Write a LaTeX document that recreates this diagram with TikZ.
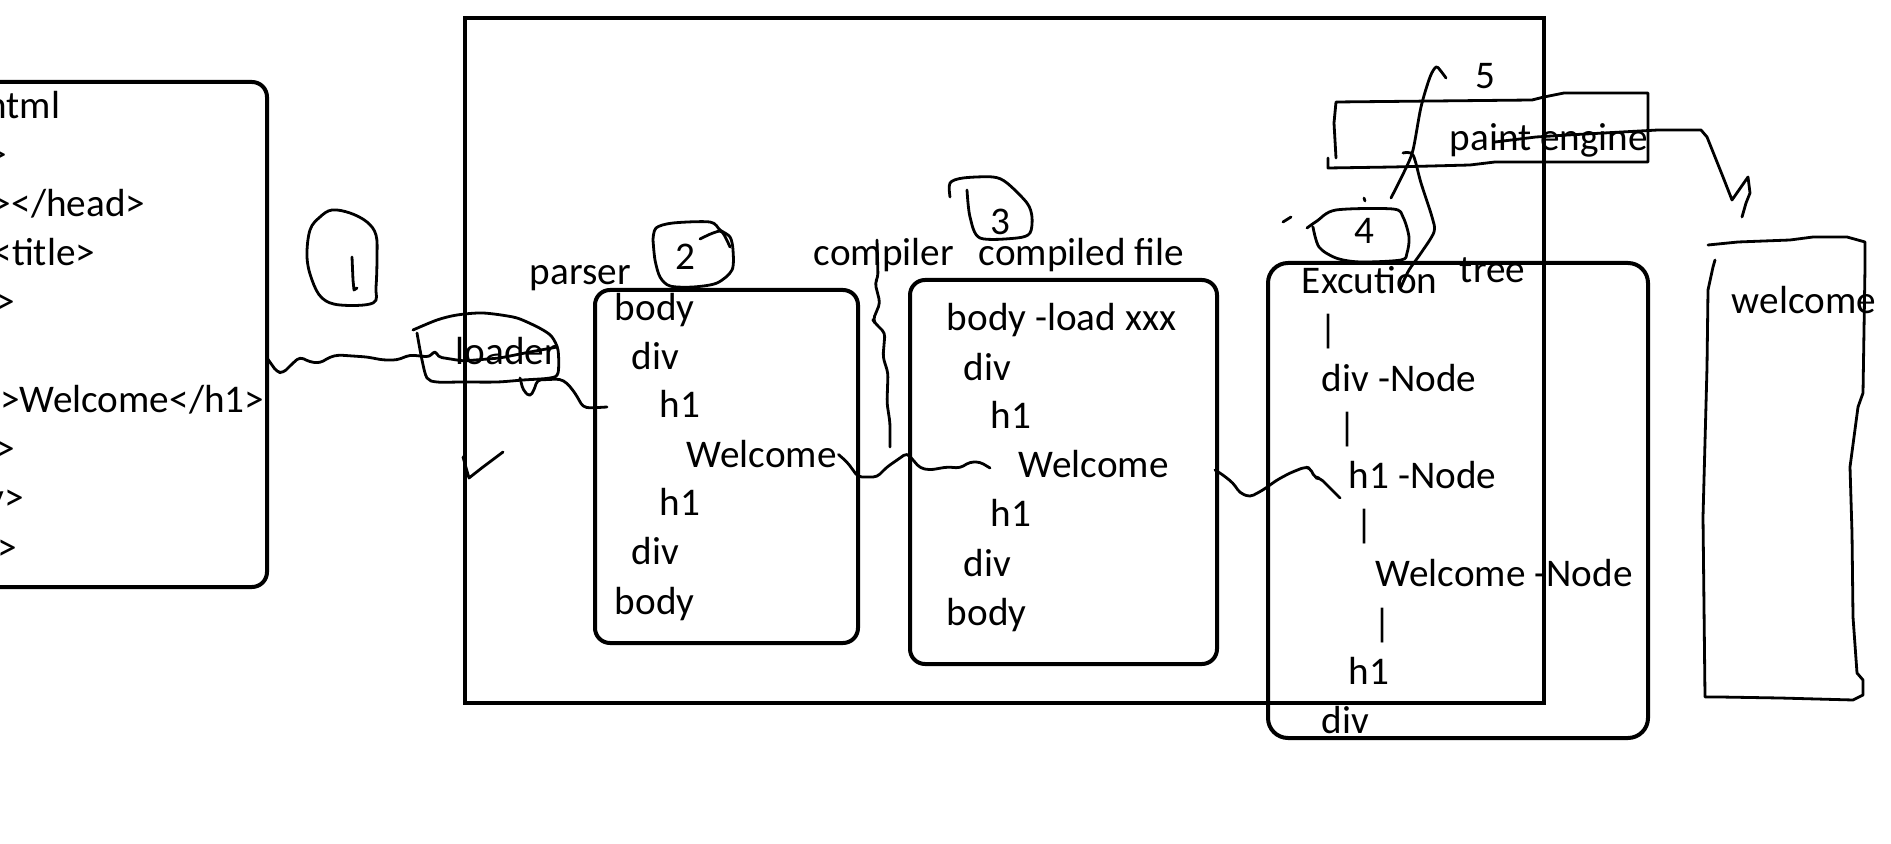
\documentclass[tikz,border=0pt]{standalone}
\usepackage{fontspec}
\setmainfont{Carlito}

\tikzset{
  hand/.style={line width=1.4pt, line join=round, line cap=round},
  panel/.style={line width=2pt, rounded corners=7.5pt},
  txt/.style={anchor=base west, inner sep=0.75pt, font=\fontsize{19.6}{23}\selectfont},
  rtxt/.style={txt, anchor=base east},
  ctxt/.style={txt, anchor=base},
}

\begin{document}
\begin{tikzpicture}[x=0.5pt,y=0.5pt,yscale=-1,xscale=1]
\useasboundingbox (0,0) rectangle (1891,844);
\clip (0,0) rectangle (1891,844);

% html source, cut off at the left
\draw [panel] (-60,82) rectangle (267,587);
\draw (62,119) node [rtxt] (src1) {<html};
\draw (9,168) node [rtxt] (src2) {<head>};
\draw (147,217) node [rtxt] (src3) {<meta></head>};
\draw (97,266) node [rtxt] (src4) {<title>};
\draw (17,315) node [rtxt] (src5) {<body>};
\draw (266,413) node [rtxt] (src7) {<h1>Welcome</h1>};
\draw (17,462) node [rtxt] (src8) {</div>};
\draw (26,511) node [rtxt] (src9) {</body>};
\draw (19,560) node [rtxt] (src10) {</html>};

% step 1
\draw [hand] plot [smooth cycle, tension=0.6] coordinates {(332,210) (350,213) (367,222) (376,235) (377,257) (376,287) (373,303) (340,305) (322,298) (312,280) (307,257) (310,230) (320,217)};
\draw [hand] (352,257) -- (353,280) -- (354,290) -- (357,288);

% browser
\draw [line width=2.2pt] (465,18) rectangle (1544,703);

% loader
\coordinate (srcR) at (267,358);
\draw [hand, rounded corners=2pt] (srcR) -- (277,372) -- (283,373) -- (293,363) -- (300,357) -- (310,362) -- (320,363) -- (330,357) -- (338,355) -- (367,357) -- (383,360) -- (397,360) -- (410,355) -- (420,356) -- (430,357) -- (435,350) -- (438,357) -- (463,361) -- (500,358) -- (530,352) -- (557,347);
\draw [hand] plot [smooth, tension=0.5] coordinates {(413,330) (437,320) (457,315) (483,313) (513,317) (527,322) (543,330) (552,337) (558,350) (558,373) (550,378) (523,380) (497,382) (463,382) (437,382) (427,378) (422,360) (417,333)};
\draw (454,365) node [txt] (loader) {loader};
\draw [hand] (463,457) -- (469,478) -- (483,467) -- (503,452);

% parser
\draw [panel] (595,290) rectangle (858,643);
\coordinate (parserL) at (607,407);
\draw [hand, rounded corners=2pt] (520,378) -- (523,390) -- (530,397) -- (535,388) -- (537,380) -- (560,379) -- (567,383) -- (575,393) -- (583,407) -- (590,408) -- (parserL);
\draw (528,285) node [txt] (parser) {parser};
\draw [hand] plot [smooth, tension=0.5] coordinates {(653,240) (656,228) (673,223) (710,222) (720,230) (730,237) (733,250) (732,270) (717,283) (693,287) (670,286) (660,277) (655,260) (653,240)};
\draw [hand] plot [smooth, tension=0.5] coordinates {(700,239) (713,233) (722,232) (730,247)};
\draw (685,270) node [ctxt] (two) {2};
\draw (613,321) node [txt] (p1) {body};
\draw (630,370) node [txt] (p2) {div};
\draw (658,418) node [txt] (p3) {h1};
\draw (685,468) node [txt] (p4) {Welcome};
\draw (658,516) node [txt] (p5) {h1};
\draw (630,565) node [txt] (p6) {div};
\draw (613,614) node [txt] (p7) {body};

% compiler
\draw (812,266) node [txt] (compiler) {compiler};
\draw [hand, rounded corners=2pt] (877,240) -- (878,277) -- (875,283) -- (880,303) -- (873,320) -- (875,323) -- (885,333) -- (883,357) -- (888,373) -- (887,403) -- (890,423) -- (890,447);
\draw [hand, rounded corners=2pt] (p4.east) -- (847,462) -- (853,470) -- (858,477) -- (877,477) -- (887,467) -- (900,458) -- (907,453) -- (913,460) -- (920,468) -- (930,470) -- (947,467) -- (960,468) -- (970,462) -- (980,462) -- (990,468);

% compiled file
\draw [panel] (910,280) rectangle (1217,664);
\draw (977,266) node [txt] (compiled) {compiled file};
\draw [hand] plot [smooth, tension=0.5] coordinates {(967,190) (970,217) (980,238) (1017,238) (1030,233) (1032,217) (1027,203) (1007,183) (993,177) (963,178) (950,183) (950,197)};
\draw (1000,235) node [ctxt] (three) {3};
\draw (945,331) node [txt] (c1) {body -load xxx};
\draw (962,381) node [txt] (c2) {div};
\draw (989,429) node [txt] (c3) {h1};
\draw (1017,478) node [txt] (c4) {Welcome};
\draw (989,527) node [txt] (c5) {h1};
\draw (962,576) node [txt] (c6) {div};
\draw (945,625) node [txt] (c7) {body};

% excution tree
\draw [panel, rounded corners=10pt] (1268,263) rectangle (1648,738);
\draw [hand, rounded corners=2pt] (1215,470) -- (1223,475) -- (1233,483) -- (1240,493) -- (1250,497) -- (1263,490) -- (1277,480) -- (1290,473) -- (1305,467) -- (1310,468) -- (1315,478) -- (1320,478) -- (1330,488) -- (1340,498);
\draw [hand] plot [smooth, tension=0.5] coordinates {(1307,228) (1317,221) (1336,210) (1393,209) (1403,217) (1409,237) (1407,253) (1401,260) (1360,262) (1336,258) (1319,247) (1313,227)};
\draw [hand] (1283,222) -- (1291,217);
\draw [hand] (1364,198) -- (1365,201);
\draw (1364,244) node [ctxt] (four) {4};
\draw (1458,283) node [txt] (tree) {tree};
\draw (1300,294) node [txt] (e1) {Excution};
\draw (1318,343) node [txt] (b1) {|};
\draw (1320,392) node [txt] (e2) {div -Node};
\draw (1337,441) node [txt] (b2) {|};
\draw (1347,489) node [txt] (e3) {h1 -Node};
\draw (1354,538) node [txt] (b3) {|};
\draw (1374,587) node [txt] (e4) {Welcome -Node};
\draw (1372,636) node [txt] (b4) {|};
\draw (1347,684) node [txt] (e5) {h1};
\draw (1320,733) node [txt] (e6) {div};

% paint engine
\draw [hand] plot [smooth, tension=0.5] coordinates {(1401,287) (1409,270) (1421,253) (1434,232) (1432,217) (1421,183) (1413,155) (1403,153)};
\draw [hand] plot [smooth, tension=0.5] coordinates {(1391,198) (1405,170) (1413,150) (1421,107) (1430,77) (1436,67) (1440,70) (1446,78)};
\draw (1485,89) node [ctxt] (five) {5};
\draw [hand] (1336,158) -- (1334,123) -- (1336,102) -- (1532,100) -- (1544,97) -- (1564,93) -- (1648,93) -- (1648,162) -- (1495,162) -- (1470,165) -- (1393,167) -- (1328,168) -- (1328,158);
\draw (1448,151) node [txt] (paint) {paint engine};

% screen
\draw [hand] (1495,142) -- (1536,137) -- (1568,135) -- (1658,130) -- (1701,130) -- (1707,137) -- (1715,157) -- (1723,177) -- (1732,200) -- (1748,177) -- (1750,193) -- (1746,203) -- (1742,217);
\draw [hand] (1708,245) -- (1738,242) -- (1790,240) -- (1813,237) -- (1847,237) -- (1865,242) -- (1865,267) -- (1863,393) -- (1858,407) -- (1850,467) -- (1852,533) -- (1853,617) -- (1857,673) -- (1863,680) -- (1863,695) -- (1853,700) -- (1780,698) -- (1720,697) -- (1705,697) -- (1703,517) -- (1707,367) -- (1708,290) -- (1713,267) -- (1715,260);
\draw (1730,314) node [txt] (screen) {welcome};
\end{tikzpicture}
\end{document}
